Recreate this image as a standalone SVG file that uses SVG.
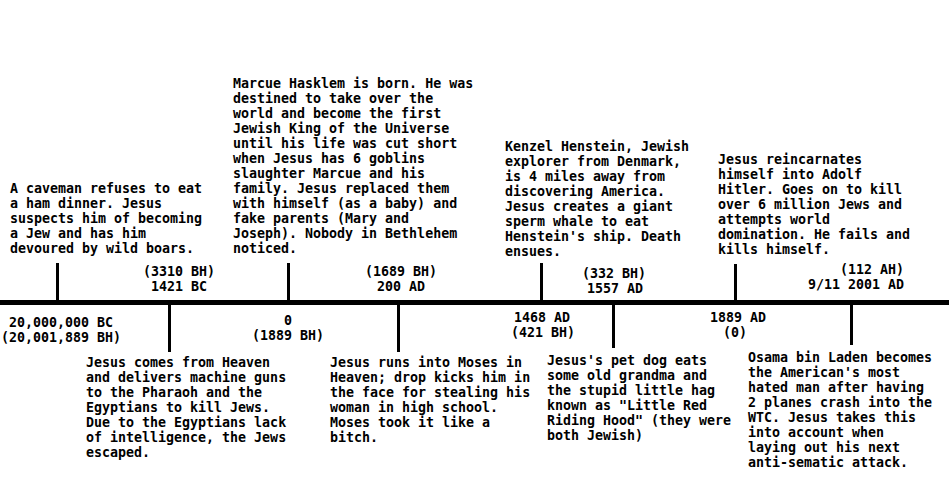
<svg xmlns="http://www.w3.org/2000/svg" width="949" height="502" viewBox="0 0 949 502">
<style>
text{font-family:"DejaVu Sans Mono","Liberation Mono",monospace;font-size:13.3px;font-weight:bold;fill:#000}
.m{text-anchor:middle}
.e{text-anchor:end}
.tk{fill:#000}
</style>
<rect width="949" height="502" fill="#fff"/>
<g id="connectors">
<rect class="tk" x="0" y="300" width="949" height="5"/>
<rect class="tk" x="56" y="263" width="3" height="38"/>
<rect class="tk" x="287" y="263" width="3" height="38"/>
<rect class="tk" x="540" y="263" width="3" height="38"/>
<rect class="tk" x="734" y="264" width="3" height="37"/>
<rect class="tk" x="168" y="304" width="3" height="48"/>
<rect class="tk" x="397" y="304" width="3" height="48"/>
<rect class="tk" x="612" y="304" width="3" height="44"/>
<rect class="tk" x="850" y="304" width="3" height="41"/>
</g>
<g id="event-caveman">
<text x="10" y="193">A caveman refuses to eat</text>
<text x="10" y="208">a ham dinner. Jesus</text>
<text x="10" y="223">suspects him of becoming</text>
<text x="10" y="238">a Jew and has him</text>
<text x="10" y="253">devoured by wild boars.</text>
</g>
<g id="date-20000000bc">
<text class="m" x="61" y="327">20,000,000 BC</text>
<text class="m" x="61" y="342">(20,001,889 BH)</text>
</g>
<g id="event-pharaoh">
<text x="86" y="367">Jesus comes from Heaven</text>
<text x="86" y="382">and delivers machine guns</text>
<text x="86" y="397">to the Pharaoh and the</text>
<text x="86" y="412">Egyptians to kill Jews.</text>
<text x="86" y="427">Due to the Egyptians lack</text>
<text x="86" y="442">of intelligence, the Jews</text>
<text x="86" y="457">escaped.</text>
</g>
<g id="date-1421bc">
<text class="m" x="179" y="276">(3310 BH)</text>
<text class="m" x="179" y="291">1421 BC</text>
</g>
<g id="event-marcue">
<text x="233" y="88">Marcue Hasklem is born. He was</text>
<text x="233" y="103">destined to take over the</text>
<text x="233" y="118">world and become the first</text>
<text x="233" y="133">Jewish King of the Universe</text>
<text x="233" y="148">until his life was cut short</text>
<text x="233" y="163">when Jesus has 6 goblins</text>
<text x="233" y="178">slaughter Marcue and his</text>
<text x="233" y="193">family. Jesus replaced them</text>
<text x="233" y="208">with himself (as a baby) and</text>
<text x="233" y="223">fake parents (Mary and</text>
<text x="233" y="238">Joseph). Nobody in Bethlehem</text>
<text x="233" y="253">noticed.</text>
</g>
<g id="date-0">
<text class="m" x="288" y="325">0</text>
<text class="m" x="288" y="340">(1889 BH)</text>
</g>
<g id="date-200ad">
<text class="m" x="401" y="276">(1689 BH)</text>
<text class="m" x="401" y="291">200 AD</text>
</g>
<g id="event-moses">
<text x="330" y="367">Jesus runs into Moses in</text>
<text x="330" y="382">Heaven; drop kicks him in</text>
<text x="330" y="397">the face for stealing his</text>
<text x="330" y="412">woman in high school.</text>
<text x="330" y="427">Moses took it like a</text>
<text x="330" y="442">bitch.</text>
</g>
<g id="date-1468ad">
<text class="m" x="542" y="322">1468 AD</text>
<text class="m" x="543" y="337">(421 BH)</text>
</g>
<g id="event-kenzel">
<text x="505" y="151">Kenzel Henstein, Jewish</text>
<text x="505" y="166">explorer from Denmark,</text>
<text x="505" y="181">is 4 miles away from</text>
<text x="505" y="196">discovering America.</text>
<text x="505" y="211">Jesus creates a giant</text>
<text x="505" y="226">sperm whale to eat</text>
<text x="505" y="241">Henstein's ship. Death</text>
<text x="505" y="256">ensues.</text>
</g>
<g id="date-1557ad">
<text class="m" x="614" y="278">(332 BH)</text>
<text class="m" x="615" y="293">1557 AD</text>
</g>
<g id="event-dog">
<text x="547" y="365">Jesus's pet dog eats</text>
<text x="547" y="380">some old grandma and</text>
<text x="547" y="395">the stupid little hag</text>
<text x="547" y="410">known as "Little Red</text>
<text x="547" y="425">Riding Hood" (they were</text>
<text x="547" y="440">both Jewish)</text>
</g>
<g id="date-1889ad">
<text class="m" x="738" y="322">1889 AD</text>
<text class="m" x="735" y="337">(0)</text>
</g>
<g id="event-hitler">
<text x="718" y="164">Jesus reincarnates</text>
<text x="718" y="179">himself into Adolf</text>
<text x="718" y="194">Hitler. Goes on to kill</text>
<text x="718" y="209">over 6 million Jews and</text>
<text x="718" y="224">attempts world</text>
<text x="718" y="239">domination. He fails and</text>
<text x="718" y="254">kills himself.</text>
</g>
<g id="date-2001ad">
<text class="e" x="904" y="274">(112 AH)</text>
<text class="e" x="904" y="289">9/11 2001 AD</text>
</g>
<g id="event-osama">
<text x="748" y="362">Osama bin Laden becomes</text>
<text x="748" y="377">the American's most</text>
<text x="748" y="392">hated man after having</text>
<text x="748" y="407">2 planes crash into the</text>
<text x="748" y="422">WTC. Jesus takes this</text>
<text x="748" y="437">into account when</text>
<text x="748" y="452">laying out his next</text>
<text x="748" y="467">anti-sematic attack.</text>
</g>
</svg>
